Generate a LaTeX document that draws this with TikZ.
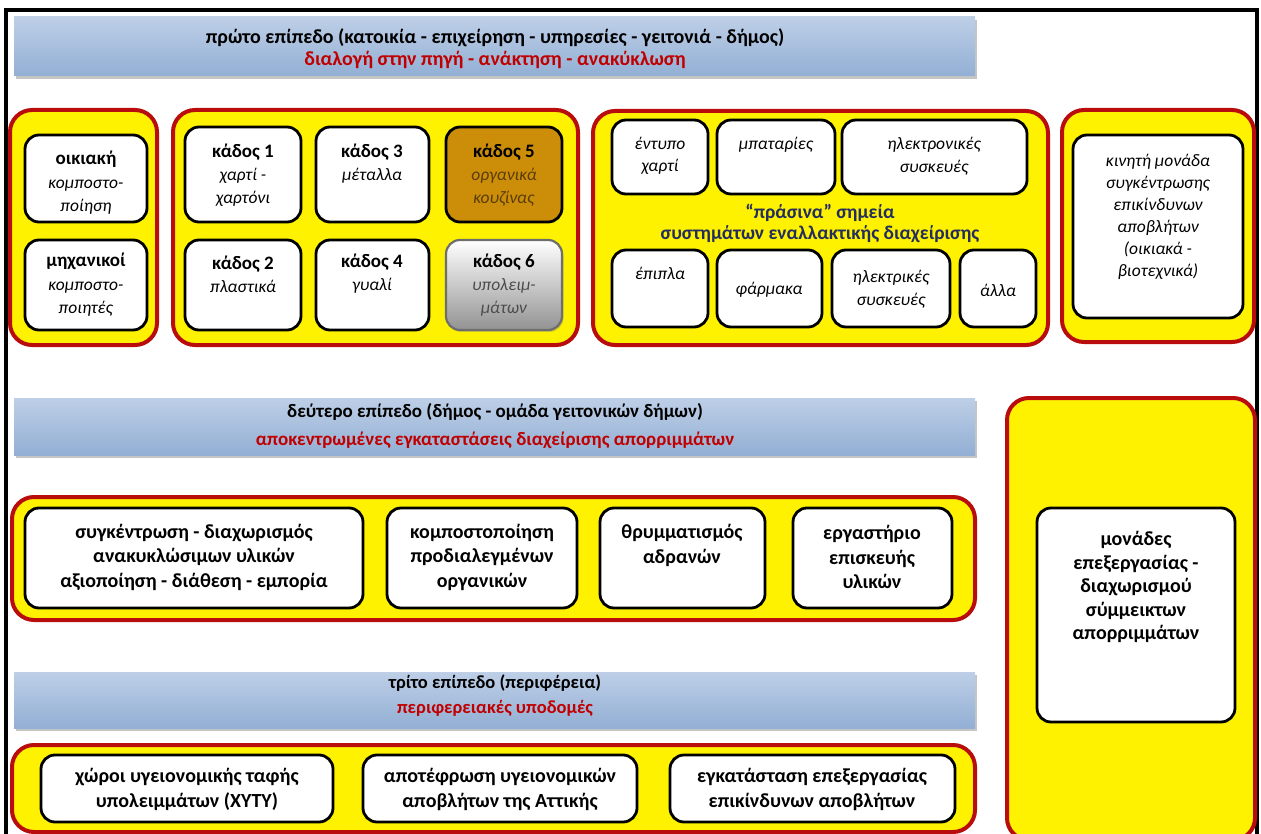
\documentclass[tikz,border=0pt]{standalone}
\usepackage{fontspec}
\setmainfont{Carlito}
\usetikzlibrary{fit,shadows}
\definecolor{grpred}{RGB}{185,12,12}
\definecolor{hdrred}{RGB}{192,0,0}
\definecolor{binfive}{RGB}{204,142,8}
\definecolor{binfivetxt}{RGB}{90,60,10}
\definecolor{navytxt}{RGB}{35,45,95}
\definecolor{hdrtop}{RGB}{190,207,231}
\definecolor{hdrmid}{RGB}{232,239,248}
\definecolor{hdrbot}{RGB}{146,175,212}
\definecolor{bgray}{RGB}{110,110,110}
\tikzset{
  grp/.style={draw=grpred, line width=4pt, fill=yellow, rounded corners=22pt, inner sep=0pt},
  ibox/.style={draw=black, line width=2.8pt, fill=white, rounded corners=14pt, inner sep=0pt},
  hdr/.style={inner sep=0pt, top color=hdrtop, middle color=hdrmid, bottom color=hdrbot,
     drop shadow={shadow xshift=2pt, shadow yshift=-3pt, opacity=0.45}},
  txt/.style={inner sep=0pt, align=center, font=\fontsize{17.5}{23}\selectfont},
  btxt/.style={txt, font=\fontsize{20}{24.5}\selectfont\bfseries},
  itxt/.style={txt, font=\fontsize{17.5}{22.5}\selectfont\itshape},
}
\newcommand{\mygrp}[5]{\node[grp, fit={(#2,#3) (#4,#5)}] (#1) {};}
\newcommand{\mybox}[5]{\node[ibox, fit={(#2,#3) (#4,#5)}] (#1) {};}
\newcommand{\bl}[1]{{\fontsize{19}{23}\selectfont\bfseries #1}}
\begin{document}
\begin{tikzpicture}[x=1pt,y=-1pt]
\useasboundingbox (0,0) rectangle (1261,834);
\fill[white] (0,0) rectangle (1261,834);
% outer frame
\draw[line width=4pt] (5.5,845) -- (5.5,10) -- (1257,10) -- (1257,845);

% ---------- level 1 ----------
\node[hdr, fit={(14,17) (975,76)}] (h1) {};
\node[btxt, font=\fontsize{20}{22}\selectfont\bfseries] (h1t) at (495,49) {πρώτο επίπεδο (κατοικία - επιχείρηση - υπηρεσίες - γειτονιά - δήμος)\\\textcolor{hdrred}{διαλογή στην πηγή - ανάκτηση - ανακύκλωση}};

% group 1
\mygrp{g1}{10}{110}{157}{345}
\mybox{b11}{25}{135}{147}{222}
\mybox{b12}{25}{240}{147}{330}
\node[txt, font=\fontsize{17.5}{23.5}\selectfont] (b11t) at (86,183) {\bl{οικιακή}\\\textit{κομποστο-}\\\textit{ποίηση}};
\node[txt, font=\fontsize{17.5}{23.5}\selectfont] (b12t) at (86,285) {\bl{μηχανικοί}\\\textit{κομποστο-}\\\textit{ποιητές}};

% group 2: bins
\mygrp{g2}{173}{110}{578}{345}
\mybox{k1}{185}{127}{301}{222}
\mybox{k3}{316}{127}{429}{222}
\node[ibox, fill=binfive, fit={(446,127) (562,222)}] (k5) {};
\mybox{k2}{185}{240}{301}{330}
\mybox{k4}{316}{240}{429}{330}
\node[ibox, draw=bgray, line width=2.2pt, top color=white, bottom color=gray!85, drop shadow={shadow xshift=1.5pt, shadow yshift=-2pt, opacity=0.35}, fit={(446,240) (562,330)}] (k6) {};
\node[txt] (k1t) at (243,175) {\bl{κάδος 1}\\\textit{χαρτί -}\\\textit{χαρτόνι}};
\node[txt] (k3t) at (372,163.5) {\bl{κάδος 3}\\\textit{μέταλλα}};
\node[txt] (k5t) at (504,175) {\bl{κάδος 5}\\\textcolor{binfivetxt}{\textit{οργανικά}}\\\textcolor{binfivetxt}{\textit{κουζίνας}}};
\node[txt] (k2t) at (243,274) {\bl{κάδος 2}\\\textit{πλαστικά}};
\node[txt] (k4t) at (372,274) {\bl{κάδος 4}\\\textit{γυαλί}};
\node[txt] (k6t) at (504,285) {\bl{κάδος 6}\\\textcolor{black!70}{\textit{υπολειμ-}}\\\textcolor{black!70}{\textit{μάτων}}};

% group 3: green points
\mygrp{g3}{593}{111}{1048}{345}
\mybox{p1}{612}{120}{708}{194}
\mybox{p2}{717}{120}{835}{194}
\mybox{p3}{842}{120}{1027}{194}
\mybox{p4}{612}{250}{708}{327}
\mybox{p5}{717}{250}{822}{327}
\mybox{p6}{832}{250}{950}{327}
\mybox{p7}{960}{250}{1036}{327}
\node[itxt] (p1t) at (660,156) {έντυπο\\χαρτί};
\node[itxt] (p2t) at (776,145) {μπαταρίες};
\node[itxt] (p3t) at (934,156) {ηλεκτρονικές\\συσκευές};
\node[btxt, text=navytxt, font=\fontsize{19.5}{21}\selectfont\bfseries] (g3t) at (820,223) {“πράσινα” σημεία\\συστημάτων εναλλακτικής διαχείρισης};
\node[itxt] (p4t) at (660,273) {έπιπλα};
\node[itxt] (p5t) at (769,290) {φάρμακα};
\node[itxt] (p6t) at (891,289) {ηλεκτρικές\\συσκευές};
\node[itxt] (p7t) at (998,290) {άλλα};

% group 4: mobile unit
\mygrp{g4}{1062}{110}{1254}{342}
\mybox{m1}{1073}{135}{1243}{318}
\node[itxt, font=\fontsize{17.5}{22}\selectfont\itshape] (m1t) at (1158,217) {κινητή μονάδα\\συγκέντρωσης\\επικίνδυνων\\αποβλήτων\\(οικιακά -\\βιοτεχνικά)};

% ---------- level 2 ----------
\node[hdr, fit={(14,398) (975,455)}] (h2) {};
\node[btxt, font=\fontsize{19}{28}\selectfont\bfseries] (h2t) at (495,426) {δεύτερο επίπεδο (δήμος - ομάδα γειτονικών δήμων)\\\textcolor{hdrred}{αποκεντρωμένες εγκαταστάσεις διαχείρισης απορριμμάτων}};

\mygrp{g5}{12}{497}{975}{620}
\mybox{d1}{25}{508}{363}{608}
\mybox{d2}{387}{508}{577}{608}
\mybox{d3}{600}{508}{765}{608}
\mybox{d4}{793}{508}{952}{608}
\node[btxt] (d1t) at (194,557) {συγκέντρωση - διαχωρισμός\\ανακυκλώσιμων υλικών\\αξιοποίηση - διάθεση - εμπορία};
\node[btxt] (d2t) at (482,557) {κομποστοποίηση\\προδιαλεγμένων\\οργανικών};
\node[btxt] (d3t) at (682,545.5) {θρυμματισμός\\αδρανών};
\node[btxt] (d4t) at (872,557) {εργαστήριο\\επισκευής\\υλικών};

% tall right group
\mygrp{g7}{1007}{398}{1255}{840}
\mybox{s1}{1037}{508}{1235}{722}
\node[btxt, font=\fontsize{20}{23.5}\selectfont\bfseries] (s1t) at (1136,587) {μονάδες\\επεξεργασίας -\\διαχωρισμού\\σύμμεικτων\\απορριμμάτων};

% ---------- level 3 ----------
\node[hdr, fit={(14,672) (975,728)}] (h3) {};
\node[btxt, font=\fontsize{18.5}{25}\selectfont\bfseries] (h3t) at (495,696) {τρίτο επίπεδο (περιφέρεια)\\\textcolor{hdrred}{περιφερειακές υποδομές}};

\mygrp{g6}{12}{745}{975}{832}
\mybox{r1}{41}{755}{333}{822}
\mybox{r2}{363}{755}{637}{822}
\mybox{r3}{670}{755}{955}{822}
\node[btxt, font=\fontsize{20}{25}\selectfont\bfseries] (r1t) at (187,789.5) {χώροι υγειονομικής ταφής\\υπολειμμάτων (ΧΥΤΥ)};
\node[btxt, font=\fontsize{20}{25}\selectfont\bfseries] (r2t) at (500,789.5) {αποτέφρωση υγειονομικών\\αποβλήτων της Αττικής};
\node[btxt, font=\fontsize{20}{25}\selectfont\bfseries] (r3t) at (812,789.5) {εγκατάσταση επεξεργασίας\\επικίνδυνων αποβλήτων};
\end{tikzpicture}
\end{document}
